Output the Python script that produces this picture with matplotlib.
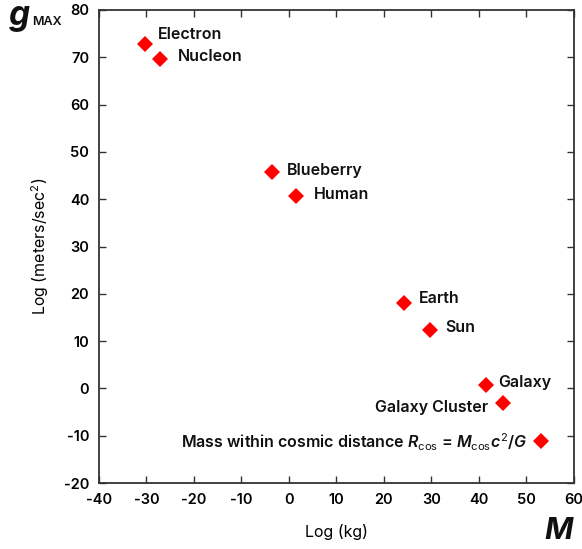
import matplotlib
matplotlib.use("Agg")
import matplotlib.pyplot as plt

plt.rcParams['font.family'] = ['Inter', 'DejaVu Sans']
plt.rcParams['axes.unicode_minus'] = False
plt.rcParams['mathtext.fontset'] = 'custom'
plt.rcParams['mathtext.rm'] = 'Inter'
plt.rcParams['mathtext.it'] = 'Inter:italic:semibold'

names = ["Electron", "Nucleon", "Blueberry", "Human", "Earth", "Sun",
         "Galaxy", "Galaxy Cluster", "cosmic"]
log_mass = [-30.3, -27.2, -3.6, 1.5, 24.2, 29.7, 41.5, 45.1, 53.1]
log_g = [72.8, 69.6, 45.7, 40.7, 18.1, 12.3, 0.7, -3.1, -11.1]

# label offsets in points (dx, dy, ha)
offsets = [(9, 7, 'left'), (13, 2, 'left'), (11, 1, 'left'), (13, 1, 'left'),
           (11, 3, 'left'), (11, 2, 'left'), (9, 2, 'left'), (-11, -3, 'right'),
           (-10, -1, 'right')]

fig = plt.figure(figsize=(5.82, 5.49), dpi=100)
ax = fig.add_axes([0.170, 0.120, 0.816, 0.862])

ax.plot(log_mass, log_g, linestyle='none', marker='D', markersize=8,
        color='#ff0000', markeredgewidth=0)

for i, n in enumerate(names):
    dx, dy, ha = offsets[i]
    if n == "cosmic":
        label = (r"Mass within cosmic distance $R_{\rm cos}$ = "
                 r"$M_{\rm cos}$$c^2$/$G$")
    else:
        label = n
    ax.annotate(label, (log_mass[i], log_g[i]), xytext=(dx, dy),
                textcoords='offset points', ha=ha, va='center',
                fontsize=11.5, fontweight='semibold', color='#111111')

ax.set_xlim(-40, 60)
ax.set_ylim(-20, 80)
ax.set_xticks(range(-40, 61, 10))
ax.set_yticks(range(-20, 81, 10))
ax.tick_params(direction='in', top=True, right=True, length=5, width=1,
               color='#333333', labelsize=10.5, pad=7)
for lab in ax.get_xticklabels() + ax.get_yticklabels():
    lab.set_fontweight('semibold')
for s in ax.spines.values():
    s.set_color('#333333')
    s.set_linewidth(1.3)

ax.set_xlabel("Log (kg)", fontsize=11.5, labelpad=12)
ax.set_ylabel(r"Log (meters/sec$^2$)", fontsize=11.5, labelpad=9)

fig.text(0.015, 0.955, "g", fontsize=24, fontweight='bold', style='italic',
         color='#111111', va='baseline')
fig.text(0.055, 0.955, "MAX", fontsize=9, fontweight='semibold',
         color='#111111', va='baseline')
fig.text(0.935, 0.018, "M", fontsize=22, fontweight='bold', style='italic',
         color='#111111')

fig.savefig("out.png", dpi=100)
